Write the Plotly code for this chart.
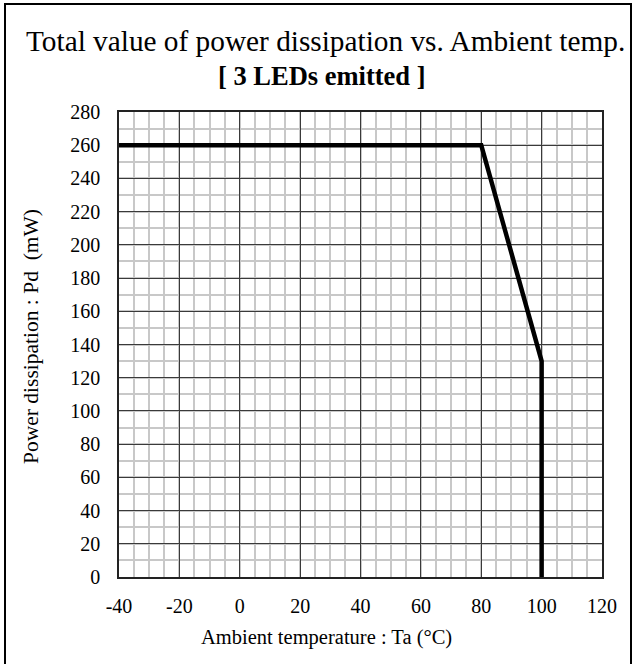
import plotly.graph_objects as go

# Derating curve: total power dissipation vs ambient temperature (3 LEDs on)
ambient_temp = [-40, 80, 100, 100]
power_mw = [260, 260, 130, 0]

x_tick_vals = [-40, -20, 0, 20, 40, 60, 80, 100, 120]
x_tick_text = ["-40", "-20", "0", "20", "40", "60", "80", "100", "120"]
y_tick_vals = [0, 20, 40, 60, 80, 100, 120, 140, 160, 180, 200, 220, 240, 260, 280]
y_tick_text = [str(v) for v in y_tick_vals]

title_text = "Total value of power dissipation vs. Ambient temp."
subtitle_text = "<b>[ 3 LEDs emitted ]</b>"
x_title = "Ambient temperature : Ta (°C)"
y_title = "Power dissipation : Pd \u00a0(mW)"

W, H = 633, 664
L, R, T, B = 119, 602, 112, 577  # plot area in pixels


def px(x):
    return (x - L) / (R - L)


def py(y):
    return (B - y) / (B - T)


SERIF = "Liberation Serif"
MAJOR = "#3a3a3a"
MINOR = "#c8c8c8"

fig = go.Figure()
fig.add_trace(go.Scatter(
    x=ambient_temp, y=power_mw, mode="lines",
    line=dict(color="black", width=4.5),
    hoverinfo="skip", showlegend=False,
))

fig.update_layout(
    width=W, height=H, autosize=False,
    margin=dict(l=L, r=W - R, t=T, b=H - B, pad=0),
    paper_bgcolor="white", plot_bgcolor="white",
    font=dict(family=SERIF, color="black", size=20),
    showlegend=False,
)

fig.update_xaxes(
    range=[-40, 120], tickmode="array", tickvals=x_tick_vals, ticktext=x_tick_text,
    showgrid=True, gridcolor=MAJOR, gridwidth=1.2,
    minor=dict(dtick=5, tick0=-40, showgrid=True, gridcolor=MINOR, gridwidth=1.5),
    showline=True, mirror=True, linecolor="#222222", linewidth=1.5,
    ticks="", ticklabelstandoff=10, zeroline=False,
    tickfont=dict(family=SERIF, size=20, color="black"),
)
fig.update_yaxes(
    range=[0, 280], tickmode="array", tickvals=y_tick_vals, ticktext=y_tick_text,
    showgrid=True, gridcolor=MAJOR, gridwidth=1.2,
    minor=dict(dtick=10, tick0=0, showgrid=True, gridcolor=MINOR, gridwidth=1.5),
    showline=True, mirror=True, linecolor="#222222", linewidth=1.5,
    ticks="", ticklabelstandoff=13, zeroline=False,
    tickfont=dict(family=SERIF, size=20, color="black"),
)

annotations = [
    dict(text=title_text, x=px(325), y=py(41), font=dict(size=29.3)),
    dict(text=subtitle_text, x=px(322), y=py(76), font=dict(size=26.5)),
    dict(text=x_title, x=px(326), y=py(637), font=dict(size=20.5)),
    dict(text=y_title, x=px(31), y=py(337), font=dict(size=21.5), textangle=-90),
]
for a in annotations:
    fig.add_annotation(xref="paper", yref="paper", showarrow=False,
                       xanchor="center", yanchor="middle", **a)

# outer frame around the whole graphic
fig.add_shape(type="rect", xref="paper", yref="paper",
              x0=px(5), x1=px(631), y0=py(670), y1=py(4),
              line=dict(color="black", width=2), fillcolor="rgba(0,0,0,0)")

fig.write_html("out.html")
